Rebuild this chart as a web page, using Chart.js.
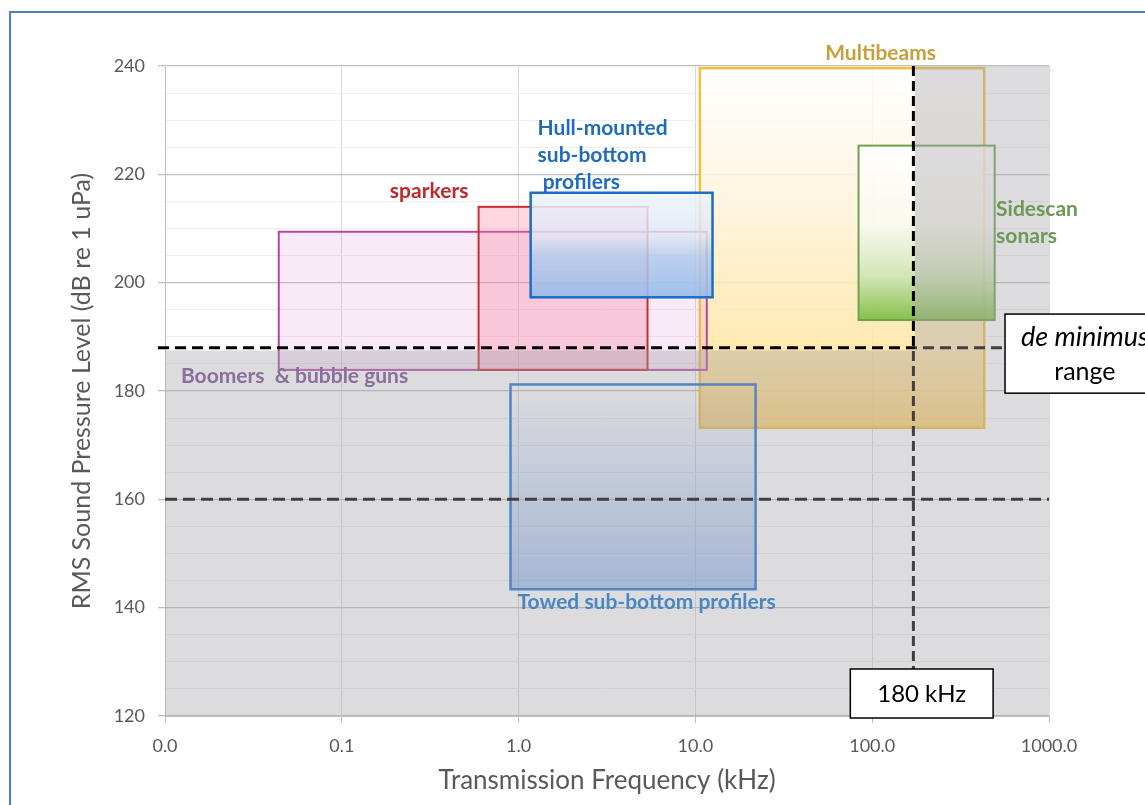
<!DOCTYPE html>
<html>
<head>
<meta charset="utf-8">
<title>Survey sources: level vs frequency</title>
<script src="https://cdn.jsdelivr.net/npm/chart.js@4.4.1/dist/chart.umd.min.js"></script>
<style>
  html, body { margin: 0; padding: 0; background: #fff; }
  #wrap { position: relative; width: 1145px; height: 805px; overflow: hidden; }
  #frame { position: absolute; left: 9px; top: 11px; width: 1300px; height: 1000px; border: 2px solid #4a7fc1; }
  #chart { position: absolute; left: 0; top: 0; }
</style>
</head>
<body>
<div id="wrap">
  <div id="frame"></div>
  <canvas id="chart" width="1145" height="805"></canvas>
</div>
<script>
// Source types with frequency (kHz) and RMS level (dB) ranges
const sources   = ['Boomers & bubble guns', 'sparkers', 'Hull-mounted sub-bottom profilers',
                   'Towed sub-bottom profilers', 'Multibeams', 'Sidescan sonars'];
const freqLow   = [0.044, 0.594, 1.17, 0.90, 10.6, 83.7];
const freqHigh  = [11.6, 5.36, 12.5, 21.9, 430, 493];
const levelLow  = [183.9, 183.9, 197.3, 143.4, 173.2, 193.1];
const levelHigh = [209.4, 214.0, 216.6, 181.2, 239.6, 225.3];

// thresholds
const deMinimisLevel = 188;
const lowerLevel = 160;
const cutoffKHz = 171;

// axes
const xTickValues = [0.01, 0.1, 1, 10, 100, 1000];
const xTickLabels = ['0.0', '0.1', '1.0', '10.0', '100.0', '1000.0'];
const yTickValues = [120, 140, 160, 180, 200, 220, 240];

const FONT = 'Lato, "Open Sans", sans-serif';
const GREY_TEXT = '#595959';

// drawing order and look of each box
const drawOrder = [4, 5, 0, 1, 3, 2];
const boxStyles = [
  { border: '#b5479f', width: 2, stops: [[0, 'rgba(225,150,220,0.2)'], [1, 'rgba(225,150,220,0.2)']] },
  { border: '#c3302e', width: 2, stops: [[0, 'rgba(250,120,150,0.3)'], [1, 'rgba(250,120,150,0.3)']] },
  { border: '#1a6fc4', width: 2.5, stops: [[0, 'rgba(236,243,252,0.85)'], [0.42, 'rgba(222,230,244,0.8)'],
                                          [0.6, 'rgba(180,203,236,0.85)'], [1, 'rgba(150,188,235,0.9)']] },
  { border: '#1f74cc', width: 2.5, stops: [[0, 'rgba(120,165,230,0)'], [1, 'rgba(120,165,230,0.66)']] },
  { border: '#f2bf3a', width: 2.5, stops: [[0, 'rgba(255,255,255,0.85)'], [0.35, 'rgba(255,244,222,0.85)'],
                                          [0.75, 'rgba(255,231,168,0.85)'], [1, 'rgba(253,206,100,0.9)']] },
  { border: '#70a050', width: 2, stops: [[0, 'rgba(255,255,255,0.8)'], [0.45, 'rgba(248,250,243,0.8)'],
                                        [0.75, 'rgba(205,228,180,0.9)'], [1, 'rgba(128,190,68,0.95)']] }
];

// labels: anchor (kHz, dB) = left edge / middle of first line
const labels = [
  { lines: ['Boomers  & bubble guns'], x: 0.0123, y: 182.8, color: '#8a6f9d' },
  { lines: ['sparkers'], x: 0.187, y: 216.8, color: '#c0282a' },
  { lines: ['Hull-mounted', 'sub-bottom', ' profilers'], x: 1.28, y: 228.6, color: '#1f6cbf' },
  { lines: ['Towed sub-bottom profilers'], x: 0.986, y: 141.0, color: '#4a86c3' },
  { lines: ['Multibeams'], x: 54.2, y: 242.4, color: '#c8a03a' },
  { lines: ['Sidescan', 'sonars'], x: 502, y: 213.6, color: '#6d9856' }
];

function drawDashed(ctx, x0, y0, x1, y1, dash, color) {
  ctx.save();
  ctx.strokeStyle = color;
  ctx.lineWidth = 3;
  ctx.setLineDash(dash);
  ctx.beginPath();
  ctx.moveTo(x0, y0);
  ctx.lineTo(x1, y1);
  ctx.stroke();
  ctx.restore();
}

function drawTextBox(ctx, x0, y0, x1, y1) {
  ctx.fillStyle = '#fff';
  ctx.fillRect(x0, y0, x1 - x0, y1 - y0);
  ctx.strokeStyle = '#000';
  ctx.lineWidth = 1.5;
  ctx.strokeRect(x0, y0, x1 - x0, y1 - y0);
}

const boxesPlugin = {
  id: 'sourceBoxes',
  afterDatasetsDraw(chart) {
    const ctx = chart.ctx;
    const area = chart.chartArea;
    const px = v => chart.scales.x.getPixelForValue(v);
    const py = v => chart.scales.y.getPixelForValue(v);

    ctx.save();
    // source boxes
    drawOrder.forEach(i => {
      const x0 = px(freqLow[i]), x1 = px(freqHigh[i]);
      const y0 = py(levelHigh[i]), y1 = py(levelLow[i]);
      const st = boxStyles[i];
      const g = ctx.createLinearGradient(0, y0, 0, y1);
      st.stops.forEach(s => g.addColorStop(s[0], s[1]));
      ctx.fillStyle = g;
      ctx.fillRect(x0, y0, x1 - x0, y1 - y0);
      ctx.strokeStyle = st.border;
      ctx.lineWidth = st.width;
      ctx.strokeRect(x0, y0, x1 - x0, y1 - y0);
    });

    // threshold lines
    const xc = px(cutoffKHz);
    const yDm = py(deMinimisLevel);
    const boxTop180 = area.bottom - 47;
    drawDashed(ctx, area.left - 7, yDm, px(564), yDm, [11, 6], '#000');
    drawDashed(ctx, area.left, py(lowerLevel), area.right, py(lowerLevel), [12, 6], '#000');
    drawDashed(ctx, xc, area.top, xc, boxTop180, [10, 5], '#000');

    // grey region: below de minimis level, and above cutoff frequency
    const yb = py(deMinimisLevel - 0.5);
    ctx.fillStyle = 'rgba(165,162,170,0.39)';
    ctx.beginPath();
    ctx.moveTo(area.left, yb);
    ctx.lineTo(xc + 1.5, yb);
    ctx.lineTo(xc + 1.5, area.top);
    ctx.lineTo(area.right, area.top);
    ctx.lineTo(area.right, area.bottom);
    ctx.lineTo(area.left, area.bottom);
    ctx.closePath();
    ctx.fill();

    // labels
    ctx.font = 'bold 21px ' + FONT;
    ctx.textAlign = 'left';
    ctx.textBaseline = 'middle';
    labels.forEach(l => {
      ctx.fillStyle = l.color;
      l.lines.forEach((t, k) => ctx.fillText(t, px(l.x), py(l.y) + k * 27));
    });

    // 180 kHz box
    drawTextBox(ctx, px(75.2), boxTop180, px(483), area.bottom + 2);
    ctx.fillStyle = '#000';
    ctx.textAlign = 'center';
    ctx.font = '24px ' + FONT;
    ctx.fillText('180 kHz', (px(75.2) + px(483)) / 2, boxTop180 + 25);

    // de minimus range box
    const bx0 = px(564), bx1 = px(4520), by0 = py(194.2), by1 = py(179.6);
    drawTextBox(ctx, bx0, by0, bx1, by1);
    ctx.fillStyle = '#000';
    ctx.font = 'italic 27px ' + FONT;
    ctx.fillText('de minimus', (bx0 + bx1) / 2, by0 + 23);
    ctx.font = '25px ' + FONT;
    ctx.fillText('range', (bx0 + bx1) / 2, by0 + 58);
    ctx.restore();
  }
};

new Chart(document.getElementById('chart'), {
  type: 'scatter',
  data: { datasets: [] },
  options: {
    responsive: false,
    animation: false,
    events: [],
    layout: { padding: { top: 66, right: 96, left: 0, bottom: 0 } },
    plugins: { legend: { display: false }, tooltip: { enabled: false } },
    scales: {
      x: {
        type: 'logarithmic',
        min: 0.01,
        max: 1000,
        afterBuildTicks: s => { s.ticks = xTickValues.map(v => ({ value: v })); },
        afterFit: s => { s.height = 89; },
        ticks: {
          autoSkip: false,
          maxRotation: 0,
          padding: 12,
          color: GREY_TEXT,
          font: { family: FONT, size: 18 },
          callback: (v, i) => xTickLabels[i]
        },
        grid: { color: '#d9d9d9', tickColor: '#bfbfbf', tickLength: 7 },
        border: { color: '#bfbfbf' },
        title: {
          display: true,
          text: 'Transmission Frequency (kHz)',
          color: GREY_TEXT,
          font: { family: FONT, size: 26 },
          padding: { top: 0, bottom: 9 }
        }
      },
      y: {
        min: 120,
        max: 240,
        afterBuildTicks: s => {
          const t = [];
          for (let v = yTickValues[0]; v <= yTickValues[yTickValues.length - 1]; v += 5) t.push({ value: v });
          s.ticks = t;
        },
        afterFit: s => { s.width = 165; },
        ticks: {
          autoSkip: false,
          padding: 13,
          color: GREY_TEXT,
          font: { family: FONT, size: 18 },
          callback: v => yTickValues.includes(v) ? String(v) : ''
        },
        grid: {
          color: c => yTickValues.includes(c.tick.value) ? '#bfbfbf' : '#ededed',
          lineWidth: c => yTickValues.includes(c.tick.value) ? 1.3 : 1,
          tickColor: c => yTickValues.includes(c.tick.value) ? '#bfbfbf' : 'rgba(0,0,0,0)',
          tickLength: 7
        },
        border: { color: '#bfbfbf' },
        title: {
          display: true,
          text: 'RMS Sound Pressure Level (dB re 1 uPa)',
          color: GREY_TEXT,
          font: { family: FONT, size: 25 },
          padding: { top: 67, bottom: 0 }
        }
      }
    }
  },
  plugins: [boxesPlugin]
});
</script>
</body>
</html>
